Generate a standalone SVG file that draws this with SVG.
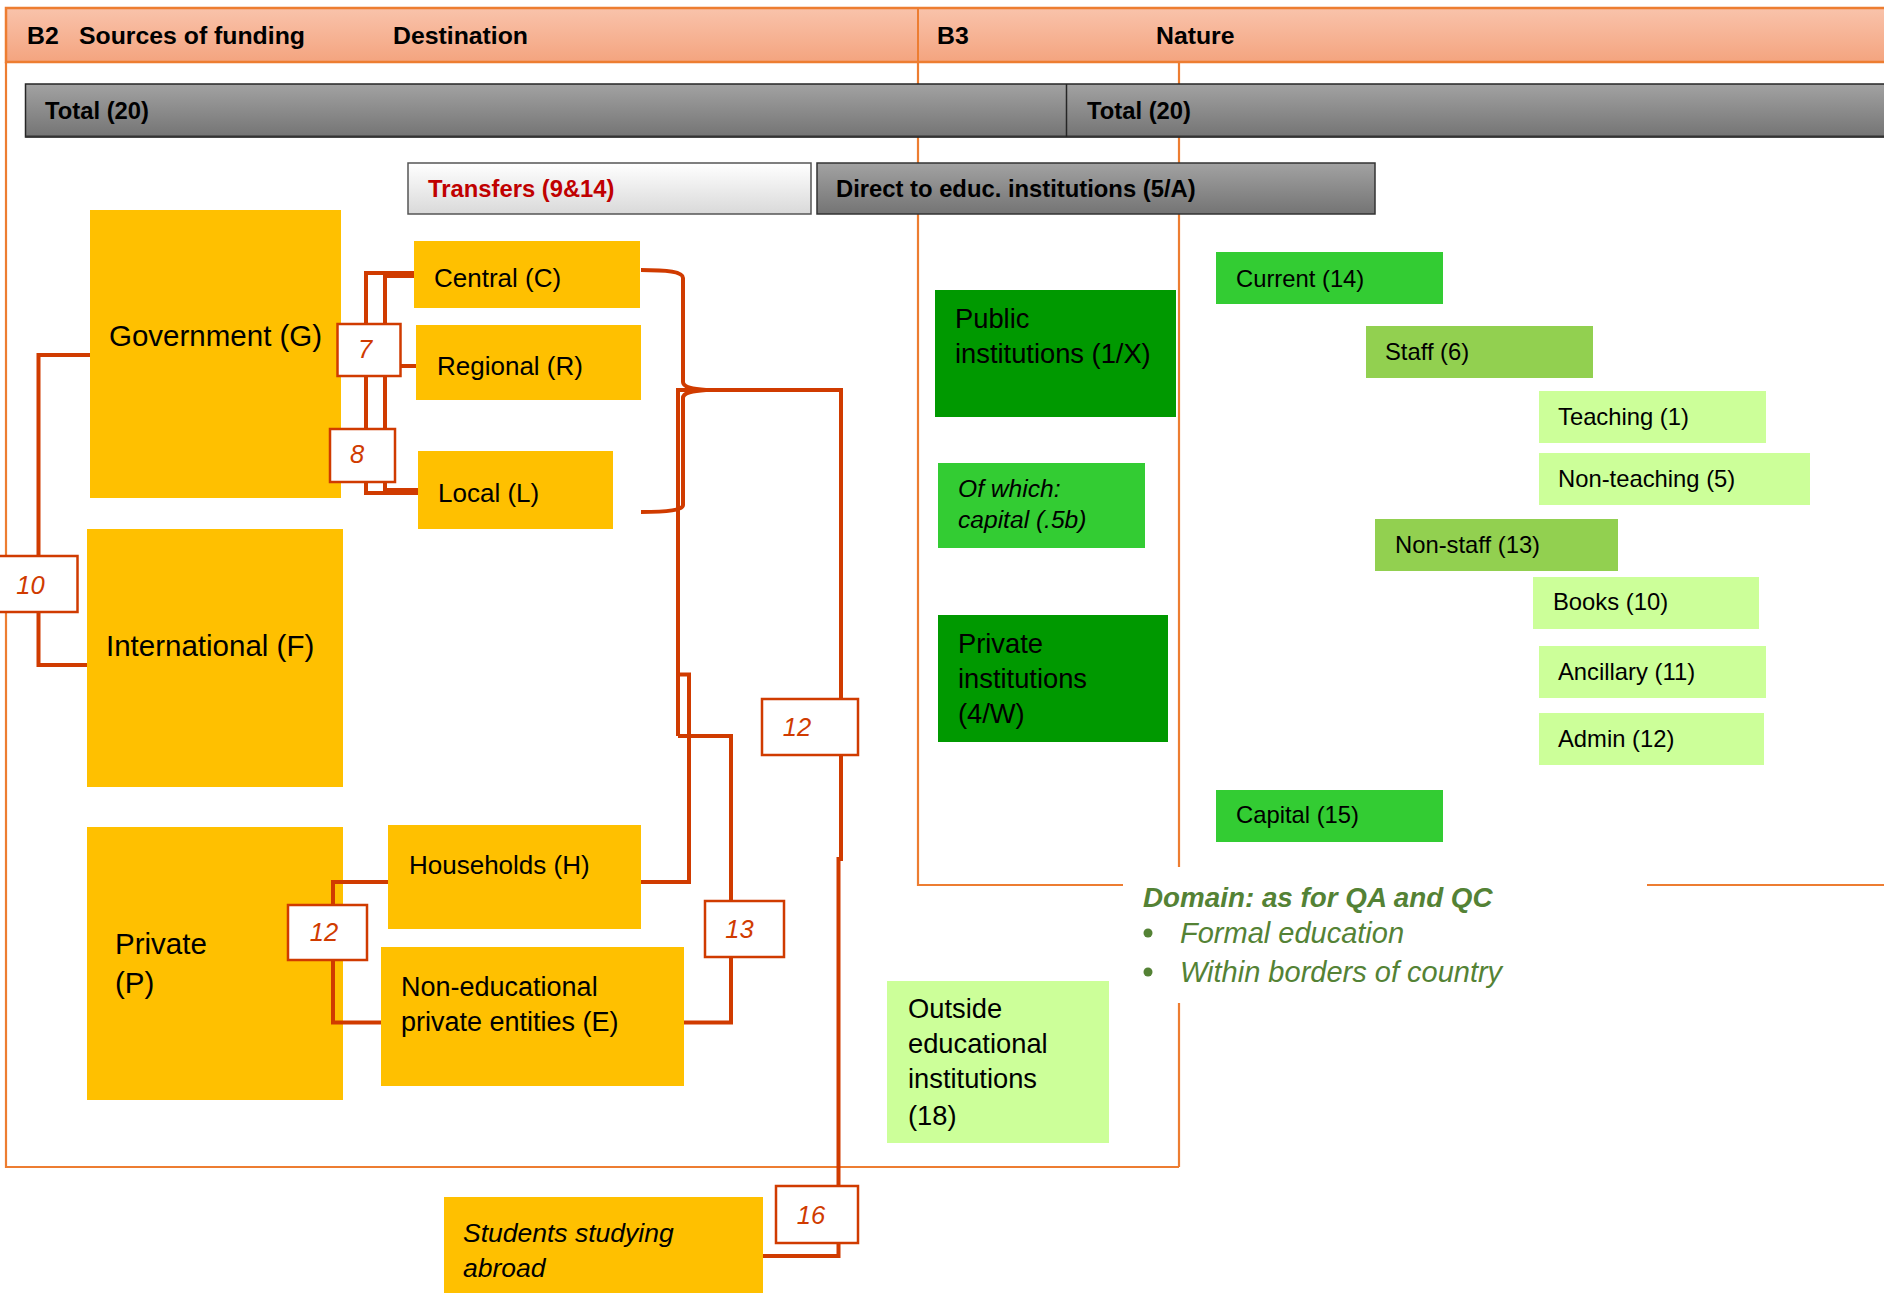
<svg xmlns="http://www.w3.org/2000/svg" width="1884" height="1293" viewBox="0 0 1884 1293">
<defs>
<linearGradient id="hdr" x1="0" y1="0" x2="0" y2="1"><stop offset="0" stop-color="#f9c3ab"/><stop offset="1" stop-color="#f4a47f"/></linearGradient>
<linearGradient id="gray" x1="0" y1="0" x2="0" y2="1"><stop offset="0" stop-color="#a2a2a2"/><stop offset="1" stop-color="#747474"/></linearGradient>
<linearGradient id="light" x1="0" y1="0" x2="0" y2="1"><stop offset="0" stop-color="#ffffff"/><stop offset="1" stop-color="#d9d9d9"/></linearGradient>
<style>
text{font-family:"Liberation Sans",Arial,sans-serif;fill:#000}
.hd{font-size:24.8px;font-weight:bold}
.tb{font-size:23.8px;font-weight:bold}
.big{font-size:29.5px}
.mid{font-size:26px}
.sm{font-size:23.8px}
.gi{font-size:27.3px}
.yl{fill:#ffc000}
.g1{fill:#009900}
.g2{fill:#33cc33}
.g3{fill:#92d050}
.g4{fill:#ccff99}
.num{fill:#fff;stroke:#d03b00;stroke-width:2.5}
.nt{font-size:25.5px;font-style:italic;fill:#d03b00;text-anchor:middle}
.fr{fill:none;stroke:#ed7d31;stroke-width:2.2}
.cn{fill:none;stroke:#d03b00;stroke-width:4;stroke-linejoin:miter}
.dom{fill:#548235;font-style:italic}
</style>
</defs>
<rect width="1884" height="1293" fill="#fff"/>
<g id="frames">
<path class="fr" d="M6,62 V1167 H1179" stroke-width="1.6"/>
<path class="fr" d="M1179,62 V867 M1179,1003 V1167"/>
<path class="fr" d="M918,8 V885 H1123 M1647,885 H1890"/>
</g>
<g id="header">
<rect x="6" y="8" width="1890" height="54" fill="url(#hdr)" stroke="#ed7d31" stroke-width="2.5"/>
<line x1="918" y1="8" x2="918" y2="62" stroke="#ed7d31" stroke-width="2"/>
<text class="hd" x="27" y="43.5">B2</text>
<text class="hd" x="79" y="43.5">Sources of funding</text>
<text class="hd" x="393" y="43.5">Destination</text>
<text class="hd" x="937" y="43.5">B3</text>
<text class="hd" x="1156" y="43.5">Nature</text>
</g>
<g id="total">
<rect x="25.5" y="84" width="1870" height="53" fill="url(#gray)" stroke="#262626" stroke-width="1.5"/>
<line x1="25.5" y1="136.5" x2="1884" y2="136.5" stroke="#333" stroke-width="2"/>
<line x1="1066.5" y1="84" x2="1066.5" y2="137" stroke="#262626" stroke-width="1.5"/>
<text class="tb" x="45" y="118.5">Total (20)</text>
<text class="tb" x="1087" y="118.5">Total (20)</text>
</g>
<g id="transfers">
<rect x="408" y="163" width="403" height="51" fill="url(#light)" stroke="#555" stroke-width="1.5"/>
<text class="tb" x="428" y="196.5" style="fill:#c00000">Transfers (9&amp;14)</text>
</g>
<g id="direct">
<rect x="817" y="163" width="558" height="51" fill="url(#gray)" stroke="#333" stroke-width="1.5"/>
<text class="tb" x="836" y="196.5">Direct to educ. institutions (5/A)</text>
</g>
<g id="government"><rect class="yl" x="90" y="210" width="251" height="288"/><text class="big" x="109" y="346">Government (G)</text></g>
<g id="international"><rect class="yl" x="87" y="529" width="256" height="258"/><text class="big" x="106" y="656">International (F)</text></g>
<g id="private"><rect class="yl" x="87" y="827" width="256" height="273"/><text class="big" x="115" y="954">Private</text><text class="big" x="115" y="993">(P)</text></g>
<g id="connectors">
<path class="cn" d="M90,355 H38.5 V665 H87"/>
<path class="cn" d="M414,273 H366 V493 H418"/>
<path class="cn" d="M414,276 H385 V490 H418" stroke-width="3"/>
<path class="cn" d="M400,366 H416"/>
<path class="cn" d="M641,270 C668,270 683,272 683,278 V382 C683,387 692,389 706,390 C692,391 683,393 683,398 V505 C683,510 668,512 641,512" stroke-width="2"/>
<path class="cn" d="M678,736 V390 H841 V699"/>
<path class="cn" d="M841,755 V859 H838.5 V1186"/>
<path class="cn" d="M838.5,1243 V1256 H763"/>
<path class="cn" d="M641,882 H689 V674.5 H678"/>
<path class="cn" d="M678,736 H731 V901"/>
<path class="cn" d="M731,957 V1022.5 H684"/>
<path class="cn" d="M388,882 H333 V905"/>
<path class="cn" d="M333,960 V1022.5 H381"/>
</g>
<g id="central"><rect class="yl" x="414" y="241" width="226" height="67"/><text class="mid" x="434" y="287">Central (C)</text></g>
<g id="regional"><rect class="yl" x="416" y="325" width="225" height="75"/><text class="mid" x="437" y="375">Regional (R)</text></g>
<g id="local"><rect class="yl" x="418" y="451" width="195" height="78"/><text class="mid" x="438" y="502">Local (L)</text></g>
<g id="households"><rect class="yl" x="388" y="825" width="253" height="104"/><text class="mid" x="409" y="874">Households (H)</text></g>
<g id="nonedu"><rect class="yl" x="381" y="947" width="303" height="139"/><text class="mid" x="401" y="996" style="font-size:27px">Non-educational</text><text class="mid" x="401" y="1031" style="font-size:27px">private entities (E)</text></g>
<g id="abroad"><rect class="yl" x="444" y="1197" width="319" height="110"/><text x="463" y="1242" font-style="italic" style="font-size:26.5px">Students studying</text><text x="463" y="1277" font-style="italic" style="font-size:26.5px">abroad</text></g>
<g id="n7"><rect class="num" x="337.5" y="324" width="63" height="52"/><text class="nt" x="365" y="358">7</text></g>
<g id="n8"><rect class="num" x="330" y="429" width="65" height="53"/><text class="nt" x="357" y="463">8</text></g>
<g id="n10"><rect class="num" x="-2" y="556" width="79.5" height="56"/><text class="nt" x="30.5" y="594">10</text></g>
<g id="n12a"><rect class="num" x="288" y="905" width="79" height="55"/><text class="nt" x="324" y="941">12</text></g>
<g id="n12b"><rect class="num" x="762" y="699" width="96" height="56"/><text class="nt" x="797" y="736">12</text></g>
<g id="n13"><rect class="num" x="705" y="901" width="79" height="56"/><text class="nt" x="739.5" y="938">13</text></g>
<g id="n16"><rect class="num" x="776" y="1186" width="82" height="57"/><text class="nt" x="811" y="1224">16</text></g>
<g id="public"><rect class="g1" x="935" y="290" width="241" height="127"/><text class="gi" x="955" y="328">Public</text><text class="gi" x="955" y="363">institutions (1/X)</text></g>
<g id="ofwhich"><rect class="g2" x="938" y="463" width="207" height="85"/><text x="958" y="497" font-style="italic" style="font-size:24.6px">Of which:</text><text x="958" y="528" font-style="italic" style="font-size:24.6px">capital (.5b)</text></g>
<g id="privinst"><rect class="g1" x="938" y="615" width="230" height="127"/><text class="gi" x="958" y="653">Private</text><text class="gi" x="958" y="688">institutions</text><text class="gi" x="958" y="723">(4/W)</text></g>
<g id="current"><rect class="g2" x="1216" y="252" width="227" height="52"/><text class="sm" x="1236" y="287">Current (14)</text></g>
<g id="staff"><rect class="g3" x="1366" y="326" width="227" height="52"/><text class="sm" x="1385" y="360">Staff (6)</text></g>
<g id="teaching"><rect class="g4" x="1539" y="391" width="227" height="52"/><text class="sm" x="1558" y="425">Teaching (1)</text></g>
<g id="nonteaching"><rect class="g4" x="1539" y="453" width="271" height="52"/><text class="sm" x="1558" y="487">Non-teaching (5)</text></g>
<g id="nonstaff"><rect class="g3" x="1375" y="519" width="243" height="52"/><text class="sm" x="1395" y="553">Non-staff (13)</text></g>
<g id="books"><rect class="g4" x="1533" y="577" width="226" height="52"/><text class="sm" x="1553" y="610">Books (10)</text></g>
<g id="ancillary"><rect class="g4" x="1539" y="646" width="227" height="52"/><text class="sm" x="1558" y="680">Ancillary (11)</text></g>
<g id="admin"><rect class="g4" x="1539" y="713" width="225" height="52"/><text class="sm" x="1558" y="747">Admin (12)</text></g>
<g id="capital"><rect class="g2" x="1216" y="790" width="227" height="52"/><text class="sm" x="1236" y="823">Capital (15)</text></g>
<g id="outside"><rect class="g4" x="887" y="981" width="222" height="162"/><text class="gi" x="908" y="1018">Outside</text><text class="gi" x="908" y="1053">educational</text><text class="gi" x="908" y="1088">institutions</text><text class="gi" x="908" y="1125">(18)</text></g>
<g id="domain">
<text class="dom" x="1143" y="907" font-weight="bold" font-size="27.8">Domain: as for QA and QC</text>
<circle cx="1148" cy="933" r="4.5" fill="#548235"/>
<circle cx="1148" cy="972" r="4.5" fill="#548235"/>
<text class="dom" x="1180" y="943" font-size="29">Formal education</text>
<text class="dom" x="1180" y="982" font-size="29">Within borders of country</text>
</g>
</svg>
